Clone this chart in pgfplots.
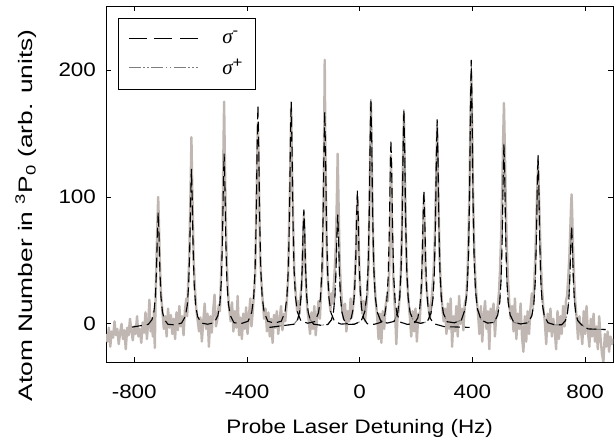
\documentclass[border=0pt]{standalone}
\usepackage{fontspec}
\setmainfont{Liberation Sans}[FakeStretch=1.15]
\newfontfamily\ylabfont{Liberation Sans}[FakeStretch=1.35]
\newfontfamily\sigmafont{Liberation Serif}
\usepackage{pgfplots}
\usepackage{pgfplotstable}
\pgfplotsset{compat=1.18}

\definecolor{datagray}{RGB}{192,183,178}
\definecolor{fitgray}{RGB}{125,125,125}

% sigma- fit, first comb of lines
\pgfplotstableread{
x y
-808 -2.6
-750 -0.4
-737 3.3
-730 9.6
-725 21.1
-721 42.5
-718 69.8
-715 88
-712 69.8
-709 42.5
-705 21.1
-700 9.6
-693 3.3
-680 -0.4
-656 -0.8
-632 0.6
-619 5.7
-612 14.3
-607 30.1
-603 59.5
-600 97
-597 122
-594 97
-591 59.5
-587 30.1
-582 14.3
-575 5.7
-562 0.6
-539 -0.3
-516 0.9
-503 6.5
-496 15.9
-491 33.3
-487 65.5
-484 106.6
-481 134
-478 106.6
-475 65.5
-471 33.3
-466 15.9
-459 6.5
-446 0.9
-421 0.2
-396 2.0
-383 9.1
-376 21.2
-371 43.4
-367 84.5
-364 137
-361 172
-358 137
-355 84.5
-351 43.4
-346 21.2
-339 9.1
-326 2.0
-302 0.6
-278 2.1
-265 9.3
-258 21.6
-253 44.2
-249 86
-246 139.4
-243 175
-240 139.4
-237 86
-233 44.2
-228 21.6
-221 9.3
-208 2.1
-184 0.5
-159 1.8
-146 8.8
-139 20.5
-134 42
-130 82
-127 133
-124 167
-121 133
-118 82
-114 42
-109 20.5
-102 8.8
-89 1.8
-66 -0.2
-43 0.1
-30 4.5
-23 11.9
-18 25.6
-14 51
-11 83.4
-8 105
-5 83.4
-2 51
2 25.6
7 11.9
14 4.5
27 0.1
51 -0.4
76 1.2
89 7.2
96 17.4
101 36.2
105 71
108 115.4
111 145
114 115.4
117 71
121 36.2
126 17.4
133 7.2
146 1.2
169 -0.4
193 0.1
206 4.5
213 11.9
218 25.6
222 51
225 83.4
228 105
231 83.4
234 51
238 25.6
243 11.9
250 4.5
263 0.1
300 -2.2
390 -2.8
}\combA

% second comb of lines
\pgfplotstableread{
x y
-320 -2.8
-233 -0.3
-220 3.4
-213 9.8
-208 21.6
-204 43.5
-201 71.4
-198 90
-195 71.4
-192 43.5
-188 21.6
-183 9.8
-176 3.4
-163 -0.3
-138 -1.1
-113 -0.5
-100 3.2
-93 9.3
-88 20.6
-84 41.5
-81 68.2
-78 86
-75 68.2
-72 41.5
-68 20.6
-63 9.3
-56 3.2
-43 -0.5
-19 -0.3
5 2.1
18 9.5
25 21.8
30 44.7
34 87
37 141
40 177
43 141
46 87
50 44.7
55 21.8
62 9.5
75 2.1
98 0.6
122 1.9
135 8.9
142 20.7
147 42.6
151 83
154 134.6
157 169
160 134.6
163 83
167 42.6
172 20.7
179 8.9
192 1.9
216 0.4
240 1.7
253 8.3
260 19.6
265 40.5
269 79
272 128.2
275 161
278 128.2
281 79
285 40.5
290 19.6
297 8.3
310 1.7
336 0.8
361 3.0
374 11.6
381 26.1
386 52.9
390 102.5
393 165.8
396 208
399 165.8
402 102.5
406 52.9
411 26.1
418 11.6
431 3.0
454 0.6
477 1.1
490 7
497 17
502 35.4
506 69.5
509 113
512 142
515 113
518 69.5
522 35.4
527 17
534 7
547 1.1
572 -0.1
598 0.9
611 6.4
618 15.8
623 33
627 65
630 105.8
633 133
636 105.8
639 65
643 33
648 15.8
655 6.4
668 0.9
692 -0.8
717 -0.7
730 2.5
737 8
742 18.2
746 37
749 61
752 77
755 61
758 37
762 18.2
767 8
774 2.5
787 -0.7
810 -4
873 -4.5
}\combB

\begin{document}
\begin{tikzpicture}
\useasboundingbox (-106.1pt,-80.9pt) rectangle (508.2pt,362.1pt);
\begin{axis}[
  at={(0pt,0pt)}, anchor=south west,
  scale only axis, width=507.5pt, height=355.6pt,
  xmin=-900, xmax=900, ymin=-30, ymax=250,
  xtick={-800,-400,0,400,800}, xticklabels={-800,-400,0,400,800},
  ytick={0,100,200}, yticklabels={0,100,200},
  tick align=inside, major tick length=5pt,
  axis line style={line width=0.8pt},
  tick style={line width=0.8pt, black},
  ticklabel style={font=\fontsize{19.5}{23}\selectfont},
  xticklabel style={anchor=base, yshift=-36.2pt},
  yticklabel style={anchor=east, xshift=-6.6pt},
  xlabel={Probe Laser Detuning (Hz)},
  ylabel={Atom Number in \textsuperscript{3}P\textsubscript{0} (arb. units)},
  xlabel style={at={(axis description cs:0.5,-0.2002)}, anchor=base,
    font=\fontsize{19.5}{23}\selectfont},
  ylabel style={at={(axis description cs:-0.145,0.412)}, anchor=base,
    font=\ylabfont\fontsize{19.5}{23}\selectfont},
  legend style={at={(axis description cs:0.0234,0.9677)}, anchor=north west,
    draw=black, line width=0.8pt, inner xsep=10pt, inner ysep=11pt,
    row sep=10pt, font=\fontsize{21}{25}\selectfont, cells={anchor=west},
    /tikz/every odd column/.append style={column sep=22pt}},
  legend image code/.code={\draw[#1] (0pt,0pt) -- (69pt,0pt);},
]
\addlegendimage{black, line width=1.1pt, dash pattern=on 18pt off 7.5pt}
\addlegendentry{{\sigmafont\itshape σ}\textsuperscript{-}}
\addlegendimage{fitgray, line width=1.1pt,
  dash pattern=on 12pt off 2.5pt on 1.5pt off 2.5pt on 1.5pt off 2.5pt}
\addlegendentry{{\sigmafont\itshape σ}\textsuperscript{+}}

% measured spectrum
\addplot[datagray, line width=2.4pt, line join=round, forget plot] coordinates {
(-900,-8) (-895,-14) (-890,-3) (-885,-18) (-880,-6) (-875,-11) (-870,2) (-865,-9)
(-860,-4) (-855,-16) (-850,-7) (-845,0) (-840,-12) (-835,-5) (-830,-20) (-825,-3)
(-820,-9) (-815,4) (-810,-6) (-805,-13) (-800,-2) (-795,-8) (-790,6) (-785,-10)
(-780,-4) (-775,-15) (-770,1) (-765,-7) (-760,9) (-755,-12) (-750,3) (-746,19)
(-742,-6) (-738,4) (-734,-10) (-730,10) (-727,-19) (-724,22) (-721,50) (-718,78)
(-715,100) (-712,76) (-709,48) (-705,24) (-700,10) (-695,-4) (-690,6) (-685,-10)
(-680,12) (-675,-3) (-670,7) (-665,-8) (-660,4) (-655,-12) (-650,9) (-645,-5)
(-640,14) (-635,-2) (-630,6) (-625,-9) (-620,11) (-615,20) (-612,6) (-609,30)
(-605,50) (-601,95) (-599,120) (-597,147) (-595,118) (-593,96) (-589,50) (-585,30)
(-580,12) (-575,3) (-570,-6) (-565,5) (-560,-14) (-555,2) (-550,16) (-545,-4)
(-540,8) (-535,-18) (-530,6) (-525,-7) (-520,10) (-515,23) (-510,-2) (-505,4)
(-500,15) (-496,10) (-493,30) (-489,58) (-485,105) (-483,145) (-481,175) (-479,140)
(-477,108) (-473,60) (-469,32) (-464,14) (-458,2) (-453,17) (-448,-6) (-443,10)
(-438,-3) (-433,22) (-428,-9) (-423,5) (-418,-12) (-413,8) (-408,-4) (-403,13)
(-398,-8) (-393,6) (-388,20) (-384,-2) (-380,8) (-375,24) (-371,38) (-367,85)
(-365,110) (-363,138) (-361,158) (-359,135) (-357,105) (-353,52) (-349,34) (-344,18)
(-339,4) (-334,12) (-329,-6) (-324,9) (-319,-10) (-314,4) (-309,-15) (-304,7)
(-299,-3) (-294,10) (-289,-8) (-284,3) (-279,14) (-274,-5) (-269,8) (-264,2)
(-259,16) (-254,36) (-250,82) (-247,112) (-245,142) (-243,170) (-241,140) (-239,112)
(-236,80) (-232,40) (-227,24) (-222,10) (-217,18) (-213,8) (-210,22) (-206,30)
(-203,44) (-201,62) (-198,86) (-195,66) (-193,48) (-190,30) (-186,12) (-181,3)
(-176,-8) (-171,9) (-166,-4) (-161,14) (-156,-9) (-151,5) (-146,18) (-141,4)
(-137,26) (-133,40) (-130,68) (-128,100) (-126,150) (-124,208) (-122,150) (-120,108)
(-117,62) (-113,36) (-108,20) (-104,10) (-100,24) (-96,16) (-92,30) (-88,45)
(-85,60) (-82,88) (-80,110) (-78,134) (-76,108) (-74,84) (-71,50) (-67,30)
(-62,14) (-57,4) (-52,16) (-47,-6) (-42,10) (-37,2) (-32,20) (-28,5)
(-24,12) (-20,22) (-16,40) (-13,58) (-11,76) (-8,100) (-5,78) (-3,58)
(0,36) (4,22) (9,8) (14,18) (19,2) (24,14) (28,26) (32,50)
(35,95) (37,130) (40,174) (43,132) (45,100) (48,62) (52,36) (57,18)
(62,6) (67,-12) (72,8) (77,-15) (82,10) (87,-4) (92,14) (97,22)
(100,18) (104,36) (107,60) (109,92) (111,133) (113,100) (115,74) (118,44)
(122,24) (126,8) (130,-16) (134,4) (138,10) (142,22) (146,40) (150,74)
(153,118) (155,140) (157,165) (159,135) (161,112) (164,70) (168,38) (173,18)
(178,6) (183,-10) (188,10) (193,-6) (198,12) (203,-14) (208,8) (213,2)
(217,18) (221,36) (224,60) (226,80) (228,100) (230,76) (232,58) (235,36)
(239,24) (244,14) (249,4) (254,16) (258,28) (262,40) (266,62) (270,100)
(273,130) (275,155) (277,128) (280,92) (284,50) (288,30) (293,14) (298,2)
(303,12) (308,-8) (313,16) (318,-4) (323,20) (328,-18) (333,6) (338,-6)
(343,14) (348,-10) (353,22) (358,0) (363,12) (368,-5) (373,16) (378,20)
(382,36) (386,66) (390,110) (393,160) (396,195) (399,158) (402,108) (406,64)
(410,38) (415,20) (420,8) (425,-8) (430,14) (435,-14) (440,6) (445,18)
(450,-4) (455,10) (460,-20) (465,12) (470,2) (475,16) (480,-10) (485,8)
(490,14) (494,24) (498,42) (502,70) (506,110) (509,145) (512,174) (515,140)
(518,102) (522,62) (526,36) (531,16) (536,4) (541,14) (546,-6) (551,20)
(556,-12) (561,8) (566,-4) (571,16) (576,-10) (581,-22) (586,6) (591,-14)
(596,10) (601,-8) (606,12) (611,24) (615,14) (619,30) (623,50) (627,82)
(630,105) (633,124) (636,104) (639,80) (643,48) (647,28) (652,12) (657,2)
(662,-16) (667,8) (672,-6) (677,12) (682,-10) (687,4) (692,-4) (697,-20)
(702,10) (707,-12) (712,6) (717,-8) (722,14) (727,-2) (732,18) (736,22)
(740,36) (744,52) (747,72) (750,92) (752,102) (754,88) (757,62) (761,36)
(765,18) (770,4) (775,-12) (780,6) (785,-4) (790,-16) (795,10) (800,-8)
(805,14) (810,-6) (815,-18) (820,4) (825,-10) (830,8) (835,-14) (840,-2)
(845,-20) (850,6) (855,-12) (860,-24) (865,-30) (870,-8) (875,-18) (880,-6)
(885,-22) (890,-10) (895,-16) (900,-12)
};

% sigma+ fit
\addplot[fitgray, line width=1pt, forget plot,
  dash pattern=on 12pt off 2.5pt on 1.5pt off 2.5pt on 1.5pt off 2.5pt]
  table {\combB};
% sigma- fit
\addplot[black, line width=1.1pt, dash pattern=on 10pt off 5pt, forget plot]
  table {\combA};
\addplot[black, line width=1.1pt, dash pattern=on 10pt off 5pt, forget plot]
  table {\combB};
\end{axis}
\end{tikzpicture}
\end{document}
